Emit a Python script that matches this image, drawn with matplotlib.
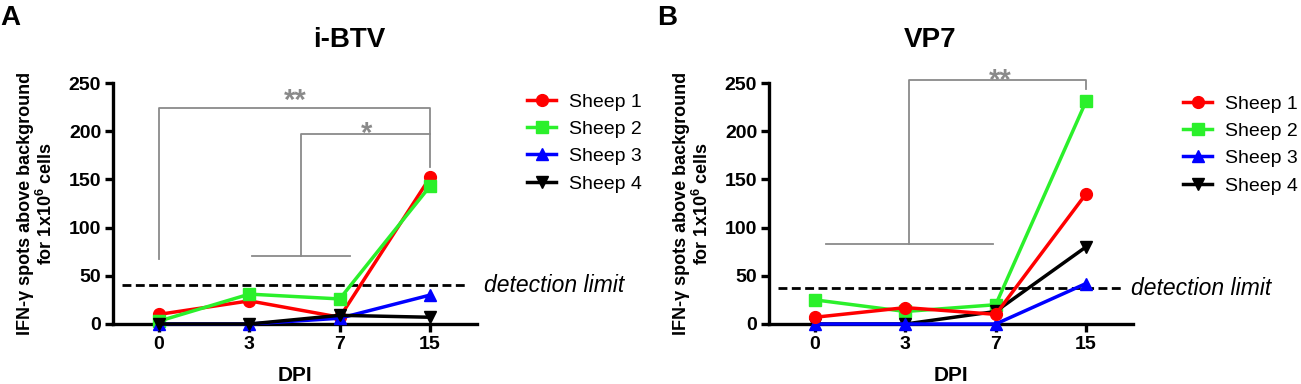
import numpy as np
import matplotlib.pyplot as plt

plt.rcParams['font.family'] = ['Liberation Sans', 'DejaVu Sans']
plt.rcParams['mathtext.fontset'] = 'custom'
plt.rcParams['mathtext.rm'] = 'Liberation Sans'
plt.rcParams['mathtext.bf'] = 'Liberation Sans:bold'

# data ------------------------------------------------------
days = ['0', '3', '7', '15']
sheep = ['Sheep 1', 'Sheep 2', 'Sheep 3', 'Sheep 4']
ibtv = [[10, 24, 7, 152],
        [3, 31, 26, 143],
        [0, 0, 6, 30],
        [0, 0, 9, 7]]
vp7 = [[7, 17, 10, 135],
       [25, 13, 20, 231],
       [0, 0, 0, 42],
       [0, 0, 13, 80]]
limit_ibtv = 40
limit_vp7 = 37

colors = ['#ff0000', '#2bf02b', '#0000ff', '#000000']
markers = ['o', 's', '^', 'v']
ylab = 'IFN-γ spots above background\nfor 1x10$^{\\mathbf{6}}$ cells'
grey = '#8a8a8a'

fig = plt.figure(figsize=(13.01, 3.84), dpi=100)
W, H = 1301., 384.


def panel(left, data, limit, order, letter, lx, title, tx, leg_x, leg_y, lim_x):
    ax = fig.add_axes([left / W, 1 - 324 / H, 364 / W, 241 / H])
    x = np.arange(len(days))
    handles = [None] * 4
    for z, i in enumerate(order):
        h, = ax.plot(x, data[i], color=colors[i], marker=markers[i], lw=2.5,
                     ms=8.5, clip_on=False, zorder=3 + z, label=sheep[i])
        handles[i] = h
    ax.plot([-0.41, 3.39], [limit, limit], color='k', lw=2, ls=(0, (3.2, 1.6)), zorder=2)
    ax.set_xlim(-0.51, 3.52)
    ax.set_ylim(0, 250)
    ax.set_xticks(x)
    ax.set_xticklabels(days)
    ax.set_yticks([0, 50, 100, 150, 200, 250])
    for s in ['top', 'right']:
        ax.spines[s].set_visible(False)
    for s in ['left', 'bottom']:
        ax.spines[s].set_linewidth(2.4)
    ax.tick_params(width=2.4, length=5.5, labelsize=14, pad=3)
    for t in ax.get_xticklabels() + ax.get_yticklabels():
        t.set_fontweight('bold')
    ax.set_ylabel(ylab, fontsize=13, fontweight='bold', linespacing=1.1, labelpad=9)
    ax.text(lim_x, limit, 'detection limit', style='italic', fontsize=16.5,
            va='center', ha='left', clip_on=False)
    fig.text((left + 182) / W, 1 - 381 / H, 'DPI', fontsize=15, fontweight='bold',
             ha='center', va='baseline')
    fig.text(lx / W, 1 - 25 / H, letter, fontsize=20, fontweight='bold', va='baseline')
    fig.text(tx / W, 1 - 47 / H, title, fontsize=20, fontweight='bold',
             ha='center', va='baseline')
    ax.legend(handles=handles, loc='upper left', bbox_to_anchor=(leg_x / W, 1 - leg_y / H),
              bbox_transform=fig.transFigure, frameon=False, fontsize=14,
              borderpad=0, borderaxespad=0, handlelength=1.5, handletextpad=0.65,
              labelspacing=0.5)
    return ax


axA = panel(113, ibtv, limit_ibtv, [0, 1, 2, 3], 'A', 0, 'i-BTV', 349, 527, 93, 3.6)
axB = panel(769, vp7, limit_vp7, [1, 3, 2, 0], 'B', 657, 'VP7', 930, 1183, 95, 3.5)

# significance brackets
kw = dict(color=grey, lw=1.3, clip_on=False, zorder=1)
axA.plot([0, 0, 3, 3], [67, 224.5, 224.5, 162.5], **kw)
axA.plot([1.03, 2.11], [70.7, 70.7], **kw)
axA.plot([1.57, 1.57, 3], [70.7, 197, 197], **kw)
axA.text(1.51, 223, '**', color=grey, fontsize=21, fontweight='bold', ha='center', va='baseline')
axA.text(2.30, 189, '*', color=grey, fontsize=21, fontweight='bold', ha='center', va='baseline')

axB.plot([0.12, 1.97], [82.5, 82.5], **kw)
axB.plot([1.04, 1.04, 3, 3], [82.5, 253.4, 253.4, 243.8], **kw)
axB.text(2.05, 244, '**', color=grey, fontsize=21, fontweight='bold', ha='center', va='baseline')

fig.savefig('out.png', dpi=100)
